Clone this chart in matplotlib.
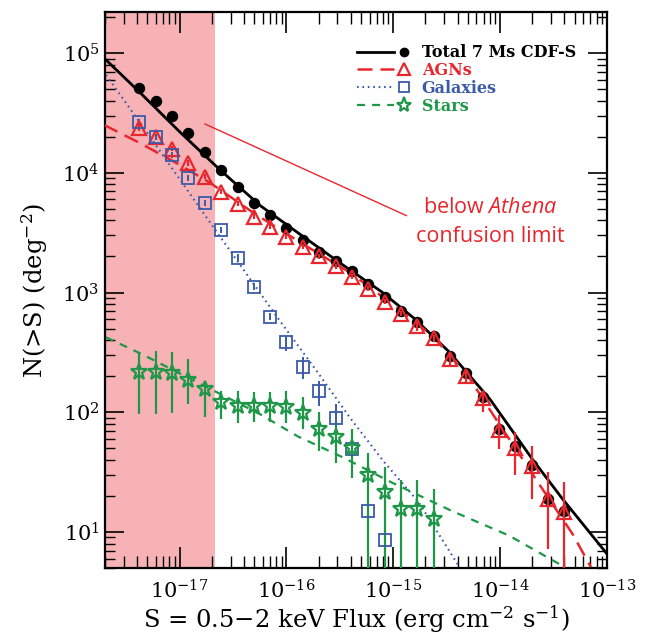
import numpy as np
import matplotlib.pyplot as plt
from matplotlib.lines import Line2D
from matplotlib.legend_handler import HandlerBase
from matplotlib.ticker import LogLocator

plt.rcParams['font.family'] = ['DejaVu Serif']
plt.rcParams['mathtext.fontset'] = 'custom'
plt.rcParams['mathtext.rm'] = 'DejaVu Serif'
plt.rcParams['mathtext.it'] = 'Open Sans:italic'

RED = '#e8262d'
BLUE = '#3b5ba8'
GREEN = '#1e9848'
PINK = '#f7b2b5'

# flux bins (erg cm^-2 s^-1)
flux = [4.20e-18, 5.97e-18, 8.49e-18, 1.21e-17, 1.72e-17, 2.44e-17, 3.48e-17,
        4.94e-17, 7.03e-17, 1.00e-16, 1.42e-16, 2.02e-16, 2.88e-16, 4.09e-16,
        5.82e-16, 8.28e-16, 1.18e-15, 1.67e-15, 2.38e-15, 3.39e-15, 4.82e-15,
        6.85e-15, 9.75e-15, 1.39e-14, 1.97e-14, 2.81e-14, 3.99e-14]

total_N = [51000, 40000, 30000, 21500, 15000, 10600, 7600, 5600, 4470, 3470,
           2750, 2180, 1850, 1500, 1170, 912, 696, 562, 437, 293, 211, 135,
           73, 52, 36, 19, 15]

agn_N = [23700, 19950, 15850, 12100, 9260, 6950, 5500, 4300, 3550, 2930, 2420,
         2000, 1650, 1360, 1080, 841, 665, 521, 414, 276, 200, 131, 71, 50,
         35.5, 18.8, 14.7]
agn_lo = [22500, 18950, 15060, 11500, 8800, 6600, 5230, 4090, 3370, 2780, 2300,
          1900, 1570, 1290, 1026, 800, 632, 480, 385, 245, 178, 100, 49, 30,
          18.8, 7.2, 1]
agn_hi = [24900, 20950, 16640, 12700, 9720, 7300, 5780, 4520, 3730, 3080, 2540,
          2100, 1730, 1430, 1134, 883, 698, 565, 445, 310, 225, 150, 94, 68,
          52, 31.6, 26]

gal_N = [26600, 19950, 14100, 9080, 5620, 3350, 1960, 1120, 630, 383, 237, 150,
         89, 49, 15, 8.6]
gal_lo = [25000, 18750, 13250, 8540, 5280, 3150, 1840, 1050, 592, 322, 188,
          112, 68, 28, 1, 1]
gal_hi = [28200, 21150, 14950, 9620, 5960, 3550, 2080, 1190, 668, 430, 287,
          181, 117, 60, 17.5, 10]

star_N = [215, 215, 211, 185, 156, 121, 112, 112, 112, 110, 98, 72, 62, 50,
          30, 21.5, 15.5, 15.5, 12.8]
star_lo = [96, 96, 98, 117, 91, 87, 82, 83, 83, 82, 72, 47, 38, 28, 1, 1, 1,
           1, 1]
star_hi = [316, 322, 316, 277, 181, 150, 150, 148, 148, 150, 133, 100, 83, 72,
           46, 35, 27, 27, 23]

# model curves
tot_model_S = [1.96e-18, 4.2e-18, 1.0e-17, 2.38e-17, 5.69e-17, 1.355e-16,
               3.23e-16, 7.71e-16, 1.61e-15, 3.30e-15, 8.05e-15, 2.0e-14,
               3.85e-14, 1.0e-13]
tot_model_N = [90800, 47300, 22000, 10600, 5310, 3040, 1746, 1019, 596, 322,
               128, 40.6, 18.8, 6.56]

agn_model_S = [1.96e-18, 4.2e-18, 1.0e-17, 1.92e-17, 4.89e-17, 1.355e-16,
               3.93e-16, 1.14e-15, 2.28e-15, 4.68e-15, 8.77e-15, 2.49e-14,
               4.77e-14, 7.06e-14]
agn_model_N = [25100, 17800, 11660, 8260, 4640, 2610, 1468, 722, 438, 220,
               92.7, 22.8, 9.6, 5.1]

gal_model_S = [2.05e-18, 5.21e-18, 2.05e-17, 8.22e-17, 1.96e-16, 4.02e-16,
               8.22e-16, 1.72e-15, 4.1e-15]
gal_model_N = [65600, 20300, 3550, 619, 215, 87.5, 38.3, 17.8, 5.2]

star_model_S = [2.05e-18, 4.48e-18, 5.69e-17, 1.27e-16, 3.37e-16, 9.57e-16,
                3.52e-15, 1.22e-14, 3.85e-14]
star_model_N = [422, 304, 96, 63, 42, 26, 15, 9.3, 5.2]

x_ticks = [1e-17, 1e-16, 1e-15, 1e-14, 1e-13]
y_ticks = [1e1, 1e2, 1e3, 1e4, 1e5]

CONFUSION_LIMIT = 2.15e-17
CALLOUT_FROM = (1.72e-17, 25600)
CALLOUT_TO = (1.33e-15, 4380)
LABEL_POS = (8.05e-15, 6230)


class LineThenMarker(HandlerBase):
    # line sample on the left, marker at the right end (IDL-style legend)
    def __init__(self, ms, **kw):
        super().__init__(**kw)
        self.ms = ms

    def create_artists(self, legend, orig_handle, xdescent, ydescent,
                       width, height, fontsize, trans):
        line, marker = orig_handle
        y = height / 2 - ydescent
        x0 = -xdescent
        seg = Line2D([x0, x0 + 0.64 * width], [y, y])
        seg.update_from(line)
        seg.set_marker('')
        mk = Line2D([x0 + 0.82 * width], [y])
        mk.update_from(marker)
        mk.set_linestyle('None')
        mk.set_markersize(self.ms.get(id(marker), marker.get_markersize()))
        seg.set_transform(trans)
        mk.set_transform(trans)
        return [seg, mk]


def errs(n, lo, hi):
    n = np.array(n, float)
    return [n - np.array(lo, float), np.array(hi, float) - n]


fig = plt.figure(figsize=(6.46, 6.37), dpi=100)
ax = fig.add_axes([0.1625, 0.1083, 0.7771, 0.8728])
ax.set_xscale('log')
ax.set_yscale('log')

ax.axvspan(2e-18, CONFUSION_LIMIT, color=PINK, lw=0, zorder=0)

l_tot, = ax.plot(tot_model_S, tot_model_N, color='k', lw=2.0, zorder=3)
l_agn, = ax.plot(agn_model_S, agn_model_N, color=RED, lw=1.8, dashes=(6, 3.2), zorder=3)
l_gal, = ax.plot(gal_model_S, gal_model_N, color=BLUE, lw=1.5, dashes=(0.8, 1.8), zorder=3)
l_star, = ax.plot(star_model_S, star_model_N, color=GREEN, lw=1.6, dashes=(3.6, 3.2), zorder=3)

m_tot, = ax.plot(flux, total_N, 'o', color='k', ms=7.2, zorder=4)
eb_agn = ax.errorbar(flux, agn_N, yerr=errs(agn_N, agn_lo, agn_hi), fmt='^',
                     color=RED, mfc='none', mec=RED, ms=9.5, mew=1.6,
                     elinewidth=1.6, capsize=0, zorder=5)
n_gal = len(gal_N)
eb_gal = ax.errorbar(flux[:n_gal], gal_N, yerr=errs(gal_N, gal_lo, gal_hi), fmt='s',
                     color=BLUE, mfc='none', mec=BLUE, ms=8, mew=1.3,
                     elinewidth=1.4, capsize=0, zorder=5)
n_star = len(star_N)
eb_star = ax.errorbar(flux[:n_star], star_N, yerr=errs(star_N, star_lo, star_hi), fmt='*',
                      color=GREEN, mfc='none', mec=GREEN, ms=12, mew=1.6,
                      elinewidth=1.6, capsize=0, zorder=5)

ax.set_xlim(2e-18, 1e-13)
ax.set_ylim(5, 2.2e5)

# axes styling
for sp in ax.spines.values():
    sp.set_linewidth(1.6)
ax.set_xticks(x_ticks)
ax.set_yticks(y_ticks)
ax.xaxis.set_minor_locator(LogLocator(base=10, subs=np.arange(2, 10), numticks=100))
ax.yaxis.set_minor_locator(LogLocator(base=10, subs=np.arange(2, 10), numticks=100))
ax.tick_params(which='both', direction='in', top=True, right=True)
ax.tick_params(axis='x', which='major', length=15, width=1.2, pad=8, labelsize=15)
ax.tick_params(axis='x', which='minor', length=8.5, width=1.0)
ax.tick_params(axis='y', which='major', length=14, width=1.2, pad=4, labelsize=15)
ax.tick_params(axis='y', which='minor', length=7, width=1.0)

ax.set_xlabel('S = 0.5\u22122 keV Flux (erg cm$^{-2}$ s$^{-1}$)', fontsize=17.5, labelpad=1)
ax.set_ylabel('N(>S) (deg$^{-2}$)', fontsize=17.5, labelpad=9)

# callout for the confusion limit
ax.annotate('', xy=CALLOUT_FROM, xytext=CALLOUT_TO,
            arrowprops=dict(arrowstyle='-', color=RED, lw=1.0, shrinkA=0, shrinkB=0))
ax.text(LABEL_POS[0], LABEL_POS[1], 'below $\\mathit{Athena}$\nconfusion limit',
        color=RED, fontsize=15.5, family='Open Sans', ha='center', va='top',
        multialignment='center', linespacing=1.45)

handles = [(l_tot, m_tot), (l_agn, eb_agn[0]), (l_gal, eb_gal[0]), (l_star, eb_star[0])]
labels = ['Total 7 Ms CDF-S', 'AGNs', 'Galaxies', 'Stars']
legend_ms = {id(m_tot): 6, id(eb_agn[0]): 8, id(eb_gal[0]): 6.5, id(eb_star[0]): 11}
leg = ax.legend(handles, labels, handler_map={tuple: LineThenMarker(legend_ms)},
                loc='upper left', bbox_to_anchor=(0.502, 0.942), frameon=False,
                borderpad=0, borderaxespad=0, handlelength=3.6, handletextpad=0.45,
                labelspacing=0.05, prop={'family': 'DejaVu Serif', 'weight': 'bold', 'size': 11.5})
for txt, col in zip(leg.get_texts(), ['k', RED, BLUE, GREEN]):
    txt.set_color(col)

plt.savefig('out.png', dpi=100)
plt.close()
